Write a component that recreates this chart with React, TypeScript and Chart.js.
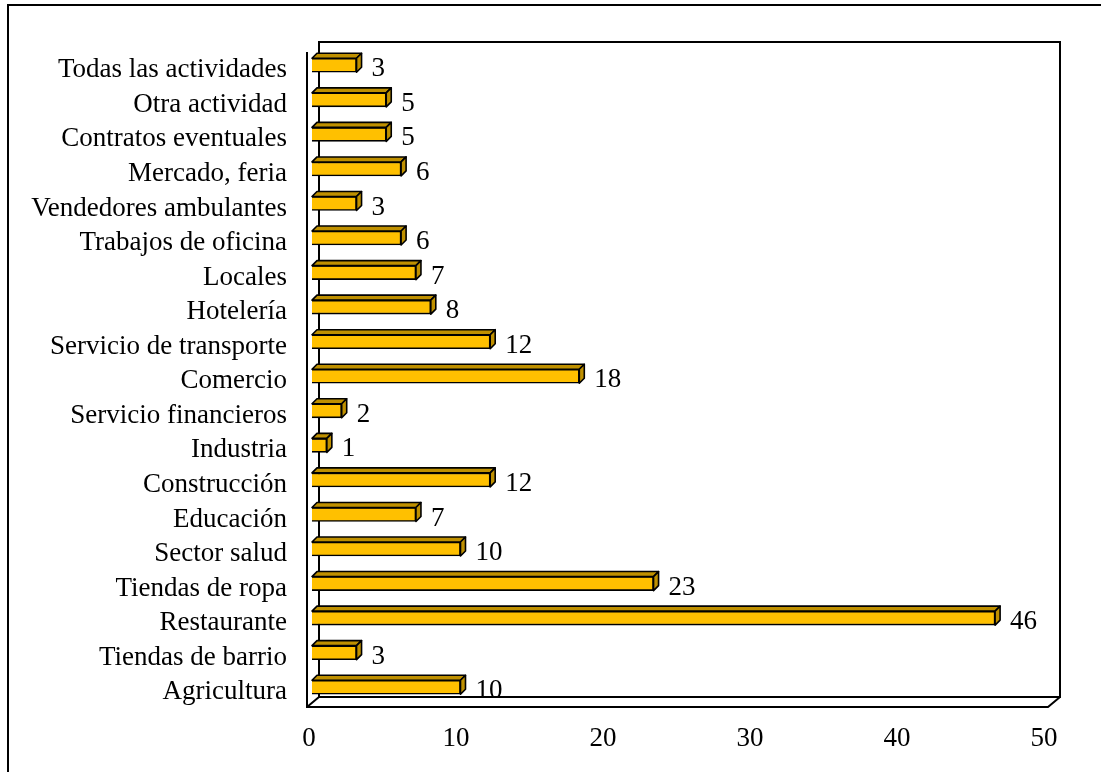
import React, { useEffect, useRef } from "react";
import { Chart, registerables } from "chart.js";

Chart.register(...registerables);

const categories = [
  "Todas las actividades",
  "Otra actividad",
  "Contratos eventuales",
  "Mercado, feria",
  "Vendedores ambulantes",
  "Trabajos de oficina",
  "Locales",
  "Hotelería",
  "Servicio de transporte",
  "Comercio",
  "Servicio financieros",
  "Industria",
  "Construcción",
  "Educación",
  "Sector salud",
  "Tiendas de ropa",
  "Restaurante",
  "Tiendas de barrio",
  "Agricultura",
];
const values = [3, 5, 5, 6, 3, 6, 7, 8, 12, 18, 2, 1, 12, 7, 10, 23, 46, 3, 10];
const xTicks = [0, 10, 20, 30, 40, 50];

const FONT = "'Liberation Serif', 'Times New Roman', serif";
const FSIZE = 27;
const FRONT = "#FFC000";
const DARK = "#BF9000";
const D = 5; // bar depth

const threeD = {
  id: "threeD",
  beforeDatasetsDraw(chart: any) {
    const { ctx, chartArea: a } = chart;
    const fl = a.left - 5, bl = a.left + 7;
    const fr = a.right - 6.5, br = a.right + 5.5;
    const top = a.top - 6, fb = a.bottom + 2.5, bb = a.bottom - 7.5;
    ctx.save();
    ctx.strokeStyle = "#000";
    ctx.lineWidth = 2;
    ctx.beginPath();
    ctx.moveTo(bl, bb);
    ctx.lineTo(bl, top);
    ctx.lineTo(br, top);
    ctx.lineTo(br, bb);
    ctx.lineTo(bl, bb);
    ctx.moveTo(fl, top + 10);
    ctx.lineTo(fl, fb);
    ctx.lineTo(fr, fb);
    ctx.lineTo(br, bb);
    ctx.moveTo(fl, fb);
    ctx.lineTo(bl, bb);
    ctx.stroke();
    ctx.beginPath();
    ctx.moveTo(8, chart.height + 5);
    ctx.lineTo(8, 5);
    ctx.lineTo(chart.width + 5, 5);
    ctx.stroke();
    ctx.restore();
  },
  afterDatasetsDraw(chart: any) {
    const { ctx } = chart;
    const meta = chart.getDatasetMeta(0);
    const xs = chart.scales.x;
    ctx.save();
    ctx.lineWidth = 1.6;
    ctx.strokeStyle = "#000";
    ctx.lineJoin = "round";
    meta.data.forEach((bar: any, i: number) => {
      const { x, y, base, height } = bar.getProps(["x", "y", "base", "height"], true);
      const t = y - height / 2, b = y + height / 2;
      ctx.fillStyle = DARK;
      ctx.beginPath();
      ctx.moveTo(base, t);
      ctx.lineTo(base + D, t - D);
      ctx.lineTo(x + D, t - D);
      ctx.lineTo(x, t);
      ctx.closePath();
      ctx.fill();
      ctx.stroke();
      ctx.beginPath();
      ctx.moveTo(x, t);
      ctx.lineTo(x + D, t - D);
      ctx.lineTo(x + D, b - D);
      ctx.lineTo(x, b);
      ctx.closePath();
      ctx.fill();
      ctx.stroke();
      ctx.fillStyle = "#000";
      ctx.font = `${FSIZE}px ${FONT}`;
      ctx.textAlign = "left";
      ctx.textBaseline = "middle";
      ctx.fillText(String(values[i]), x + 15, y + 4);
    });
    const p0 = xs.getPixelForValue(0);
    const p1 = xs.getPixelForValue(50);
    ctx.textAlign = "center";
    ctx.textBaseline = "middle";
    xTicks.forEach((v) => {
      const p = xs.getPixelForValue(v);
      const fx = p0 - 3 + ((p - p0) * (p1 - p0 - 7.5)) / (p1 - p0);
      ctx.fillText(String(v), fx, 739);
    });
    ctx.restore();
  },
};

export default function App() {
  const ref = useRef<HTMLCanvasElement>(null);
  useEffect(() => {
    const chart = new Chart(ref.current!, {
      type: "bar",
      data: {
        labels: categories,
        datasets: [
          {
            data: values,
            backgroundColor: FRONT,
            borderColor: "#000",
            borderWidth: 1.6,
            barThickness: 14,
          },
        ],
      },
      options: {
        indexAxis: "y",
        responsive: false,
        animation: false,
        layout: { padding: { left: 0, top: 48, right: 46.5, bottom: 67.5 } },
        plugins: { legend: { display: false }, tooltip: { enabled: false } },
        scales: {
          x: {
            min: 0,
            max: 50,
            grid: { display: false },
            border: { display: false },
            ticks: { display: false, stepSize: 10 },
            afterFit: (s: any) => {
              s.height = 0;
            },
          },
          y: {
            grid: { display: false },
            border: { display: false },
            ticks: {
              color: "#000",
              font: { family: FONT, size: FSIZE },
              padding: 17,
              labelOffset: 5,
              autoSkip: false,
            },
            afterFit: (s: any) => {
              s.width = 312;
            },
          },
        },
      },
      plugins: [threeD],
    });
    return () => chart.destroy();
  }, []);
  return (
    <div style={{ position: "absolute", left: 0, top: 0, width: 1101, height: 772, background: "#fff" }}>
      <canvas ref={ref} width={1101} height={772} />
    </div>
  );
}
